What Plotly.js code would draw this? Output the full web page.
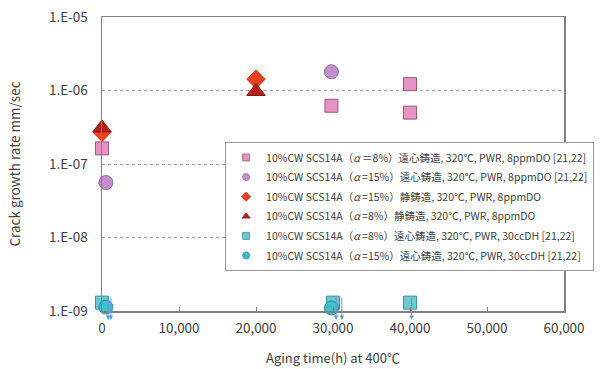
<!DOCTYPE html>
<html>
<head>
<meta charset="utf-8">
<script src="https://cdn.plot.ly/plotly-3.0.1.min.js"></script>
<style>html,body{margin:0;padding:0;background:#fff;}#chart{width:606px;height:369px;}</style>
</head>
<body>
<div id="chart"></div>
<script>
// ---- data ----
const seriesNames = [
  "10%CW SCS14A（<i>α</i> ＝8%）遠心鋳造, 320℃, PWR, 8ppmDO [21,22]",
  "10%CW SCS14A（<i>α</i> =15%）遠心鋳造, 320℃, PWR, 8ppmDO [21,22]",
  "10%CW SCS14A（<i>α</i> =15%）静鋳造, 320℃, PWR, 8ppmDO",
  "10%CW SCS14A（<i>α</i> =8%）静鋳造, 320℃, PWR, 8ppmDO",
  "10%CW SCS14A（<i>α</i> =8%）遠心鋳造, 320℃, PWR, 30ccDH [21,22]",
  "10%CW SCS14A（<i>α</i> =15%）遠心鋳造, 320℃, PWR, 30ccDH [21,22]"
];
const cf8DO_x   = [0, 29800, 40000, 40000];
const cf8DO_y   = [1.63e-7, 6.2e-7, 1.22e-6, 5.0e-7];
const cf15DO_x  = [500, 29800];
const cf15DO_y  = [5.6e-8, 1.8e-6];
const st15DO_x  = [0, 20000];
const st15DO_y  = [2.7e-7, 1.42e-6];
const st8DO_x   = [0, 20000];
const st8DO_y   = [3.1e-7, 9.7e-7];
const cf8DH_x   = [0, 30000, 40000];
const cf8DH_y   = [1.3e-9, 1.3e-9, 1.3e-9];
const cf15DH_x  = [500, 29800];
const cf15DH_y  = [1.13e-9, 1.1e-9];
// "below detection" arrows: x positions (data units)
const arrowX = [800, 1150, 30400, 31150, 40200];
const xTicks = [0, 10000, 20000, 30000, 40000, 50000, 60000];
const yTicks = [1e-9, 1e-8, 1e-7, 1e-6, 1e-5];
const yTickText = ["1.E-09", "1.E-08", "1.E-07", "1.E-06", "1.E-05"];

// ---- styles ----
const styles = [
  {symbol: "square",      color: "#E593C2", line: "#9A5A7C", size: 13},
  {symbol: "circle",      color: "#BF90CB", line: "#8C6A98", size: 14},
  {symbol: "diamond",     color: "#E8421F", line: "#B82A14", size: 14},
  {symbol: "triangle-up", color: "#B5221D", line: "#7E1512", size: 16},
  {symbol: "square",      color: "#6CC8D2", line: "#3F8F99", size: 13},
  {symbol: "circle",      color: "#3FBFCB", line: "#2E8C96", size: 14}
];
const xs = [cf8DO_x, cf15DO_x, st15DO_x, st8DO_x, cf8DH_x, cf15DH_x];
const ys = [cf8DO_y, cf15DO_y, st15DO_y, st8DO_y, cf8DH_y, cf15DH_y];

const traces = [];
for (let i = 0; i < 6; i++) {
  const s = styles[i];
  traces.push({
    type: "scatter", mode: "markers", x: xs[i], y: ys[i],
    name: seriesNames[i], legendgroup: "g" + i, showlegend: false,
    cliponaxis: false, hoverinfo: "skip",
    marker: {symbol: s.symbol, size: s.size, color: s.color, line: {color: s.line, width: 1}}
  });
}
// small legend markers
for (let i = 0; i < 6; i++) {
  const s = styles[i];
  traces.push({
    type: "scatter", mode: "markers", x: [null], y: [null],
    name: seriesNames[i], legendgroup: "g" + i, showlegend: true,
    marker: {symbol: s.symbol, size: 7, color: s.color, line: {color: s.line, width: 0.8}}
  });
}

// arrow heads just below the x axis (paper y), tails above
const annotations = arrowX.map(x => ({
  x: x, y: -0.031, xref: "x", yref: "paper", text: "",
  showarrow: true, ax: 0, ay: -24, arrowhead: 2, arrowsize: 0.9,
  arrowwidth: 1, arrowcolor: "#5B9BD5", standoff: 0
}));

const fontFam = "Noto Sans CJK JP, Noto Sans, sans-serif";
const layout = {
  width: 606, height: 369,
  margin: {l: 102, r: 35, t: 17, b: 58},
  paper_bgcolor: "#fff", plot_bgcolor: "#fff",
  font: {family: fontFam, size: 13, color: "#404040"},
  showlegend: true,
  legend: {
    x: 0.2665, y: 0.575, xanchor: "left", yanchor: "top",
    bgcolor: "#fff", bordercolor: "#9a9a9a", borderwidth: 1,
    font: {family: fontFam, size: 10.5, color: "#404040"},
    tracegroupgap: 0.6, traceorder: "grouped", itemclick: false
  },
  xaxis: {
    range: [0, 60000], tickvals: xTicks, tickformat: ",d",
    showline: true, linecolor: "#808080", linewidth: 1.5, mirror: true,
    ticks: "inside", ticklen: 4, tickcolor: "#808080",
    showgrid: false, zeroline: false, ticklabelstandoff: 4,
    tickfont: {size: 13.5, color: "#404040"},
    title: {text: "Aging time(h) at 400℃", font: {size: 13, color: "#404040"}, standoff: 18}
  },
  yaxis: {
    type: "log", range: [-9, -5], tickvals: yTicks, ticktext: yTickText,
    showline: true, linecolor: "#808080", linewidth: 1.5, mirror: true,
    ticks: "", showgrid: true, gridcolor: "#a0a0a0", griddash: "dot", gridwidth: 1,
    zeroline: false, ticklabelstandoff: 10,
    tickfont: {size: 13.5, color: "#404040"},
    title: {text: "Crack growth rate mm/sec", font: {size: 13.5, color: "#404040"}, standoff: 25}
  },
  annotations: annotations
};

Plotly.newPlot("chart", traces, layout, {staticPlot: true, displayModeBar: false});
</script>
</body>
</html>
